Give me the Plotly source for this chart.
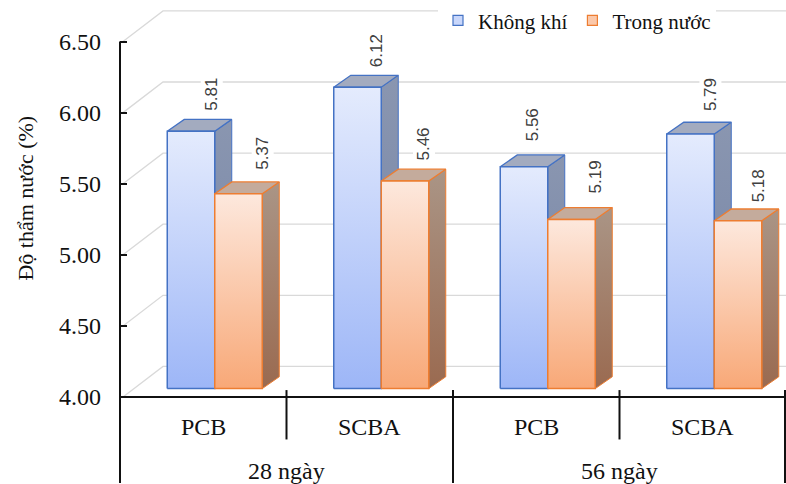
import plotly.graph_objects as go

# ---------------- data ----------------
GROUPS = ["28 ngày", "56 ngày"]
MATERIALS = ["PCB", "SCBA", "PCB", "SCBA"]
SERIES = ["Không khí", "Trong nước"]
KHONG_KHI = [5.81, 6.12, 5.56, 5.79]
TRONG_NUOC = [5.37, 5.46, 5.19, 5.18]
Y_TICKS = [4.00, 4.50, 5.00, 5.50, 6.00, 6.50]
Y_TITLE = "Độ thẩm nước (%)"

# ---------------- geometry / style ----------------
W, H = 786, 484
ML, MB = 120, 87
PW, PH = W - ML, H - MB
PX_X = PW / len(MATERIALS)
PX_Y = 144.0
Y_MIN = 4.0
Y_MAX = Y_MIN + PH / PX_Y


def ux(px):
    return px / PX_X


def uy(px):
    return px / PX_Y


def ypaper(px_from_top):
    return (PH - px_from_top) / PH


BAR_W = ux(47.5)
BAR_LEFT = ux(-36)
FRONT_DY = uy(8.5)
DEPTH_DX, DEPTH_DY = ux(17), uy(12)
WALL_DX, WALL_DY = ux(43), uy(31)

# data-label offsets (pixels) per category, per series
LABEL_DX = [[21, 24], [19, 19], [8, 24], [20, 20]]
LABEL_DY = [[18, 22], [18, 18], [23, 24], [21, 16]]

SERIF = "Liberation Serif, Times New Roman, serif"
SANS = "Liberation Sans, Arial, sans-serif"

STYLES = [
    dict(border="#4472c4", top="#e4ebfd", bottom="#9db6f7",
         side_top="#8a96b0", side_bottom="#7282a6", lid="#a3abbf",
         legend="#c9d7fb"),
    dict(border="#ed7d31", top="#fde8dd", bottom="#f8a877",
         side_top="#aa9586", side_bottom="#9a6a50", lid="#c4ab9c",
         legend="#fbc8aa"),
]

fig = go.Figure()

# back wall + side wall gridlines
gx, gy = [], []
x_left = -0.5
x_right = len(MATERIALS) - 0.5
for v in Y_TICKS:
    gx += [x_left + ux(3), x_left + WALL_DX, x_right, None]
    gy += [v, v + WALL_DY, v + WALL_DY, None]
fig.add_trace(go.Scatter(x=gx, y=gy, mode="lines",
                         line=dict(color="#d9d9d9", width=1.3),
                         hoverinfo="skip", showlegend=False))

# 3D bars
values = [KHONG_KHI, TRONG_NUOC]
annotations = []
for i in range(len(MATERIALS)):
    for s, vals in enumerate(values):
        st = STYLES[s]
        v = vals[i]
        xl = i + BAR_LEFT + s * BAR_W
        xr = xl + BAR_W
        yb = Y_MIN + FRONT_DY
        yt = v + FRONT_DY
        # side face
        fig.add_trace(go.Scatter(
            x=[xr, xr, xr + DEPTH_DX, xr + DEPTH_DX, xr],
            y=[yb, yt, yt + DEPTH_DY, yb + DEPTH_DY, yb],
            mode="lines", fill="toself",
            fillgradient=dict(type="vertical",
                              colorscale=[[0, st["side_bottom"]], [1, st["side_top"]]]),
            line=dict(color=st["border"], width=1),
            hoverinfo="skip", showlegend=False))
        # top face
        fig.add_trace(go.Scatter(
            x=[xl, xr, xr + DEPTH_DX, xl + DEPTH_DX, xl],
            y=[yt, yt, yt + DEPTH_DY, yt + DEPTH_DY, yt],
            mode="lines", fill="toself", fillcolor=st["lid"],
            line=dict(color=st["border"], width=1.3),
            hoverinfo="skip", showlegend=False))
        # front face
        fig.add_trace(go.Scatter(
            x=[xl, xr, xr, xl, xl],
            y=[yb, yb, yt, yt, yb],
            mode="lines", fill="toself",
            fillgradient=dict(type="vertical",
                              colorscale=[[0, st["bottom"]], [1, st["top"]]]),
            line=dict(color=st["border"], width=1.5),
            hoverinfo="skip", showlegend=False))
        annotations.append(dict(
            x=(xl + xr) / 2, y=yt, xref="x", yref="y",
            text=f"{v:.2f}", showarrow=False, textangle=-90,
            xanchor="center", yanchor="bottom",
            xshift=LABEL_DX[i][s], yshift=LABEL_DY[i][s],
            bgcolor="white", font=dict(family=SANS, size=17, color="#404040")))

# legend entries
for s, name in enumerate(SERIES):
    fig.add_trace(go.Scatter(
        x=[None], y=[None], mode="markers", name=name,
        marker=dict(symbol="square", size=10, color=STYLES[s]["legend"],
                    line=dict(color=STYLES[s]["border"], width=1.2))))

# category labels
for i, m in enumerate(MATERIALS):
    annotations.append(dict(x=i, y=ypaper(30 + PH), xref="x", yref="paper",
                            text=m, showarrow=False, yanchor="middle",
                            font=dict(family=SERIF, size=24, color="#111")))
for g, name in enumerate(GROUPS):
    annotations.append(dict(x=2 * g + 0.5, y=ypaper(75 + PH), xref="x", yref="paper",
                            text=name, showarrow=False, yanchor="middle",
                            font=dict(family=SERIF, size=24, color="#111")))
annotations.append(dict(x=-(ML - 26) / PW, y=ypaper(195), xref="paper", yref="paper",
                        text=Y_TITLE, showarrow=False, textangle=-90,
                        xanchor="center", yanchor="middle",
                        font=dict(family=SERIF, size=22, color="#111")))

# axis lines and dividers
shapes = []
axis_line = dict(color="#111", width=2)
y_top_paper = (Y_TICKS[-1] - Y_MIN) / (Y_MAX - Y_MIN)
shapes.append(dict(type="line", xref="paper", yref="paper", x0=0, x1=0,
                   y0=y_top_paper, y1=ypaper(H), line=axis_line))
shapes.append(dict(type="line", xref="paper", yref="paper", x0=0, x1=1,
                   y0=0, y1=0, line=axis_line))
for k in range(1, len(MATERIALS) + 1):
    xk = k - 0.5 - (ux(1) if k == len(MATERIALS) else 0)
    bottom = ypaper(H) if k % 2 == 0 else ypaper(PH + 43)
    shapes.append(dict(type="line", xref="x", yref="paper", x0=xk, x1=xk,
                       y0=ypaper(PH - 7), y1=bottom, line=axis_line))

fig.update_layout(
    width=W, height=H,
    margin=dict(l=ML, r=0, t=0, b=MB),
    paper_bgcolor="white", plot_bgcolor="white",
    xaxis=dict(range=[x_left, x_right], showgrid=False, zeroline=False,
               showticklabels=False, ticks="", fixedrange=True),
    yaxis=dict(range=[Y_MIN, Y_MAX], tickvals=Y_TICKS,
               ticktext=[f"{t:.2f}" for t in Y_TICKS],
               ticks="inside", ticklen=7, tickwidth=2, tickcolor="#111",
               showgrid=False, zeroline=False, showline=False,
               ticklabelstandoff=18,
               tickfont=dict(family=SERIF, size=24, color="#111")),
    legend=dict(orientation="h", x=(438 - ML) / PW, y=ypaper(16),
                xanchor="left", yanchor="middle", bgcolor="white",
                font=dict(family=SERIF, size=21, color="#111"),
                itemwidth=30, tracegroupgap=0),
    annotations=annotations,
    shapes=shapes,
    showlegend=True,
)

fig.write_html("out.html",
               config={"displayModeBar": False},
               post_script="document.body.style.margin='0';document.body.style.overflow='hidden';")
